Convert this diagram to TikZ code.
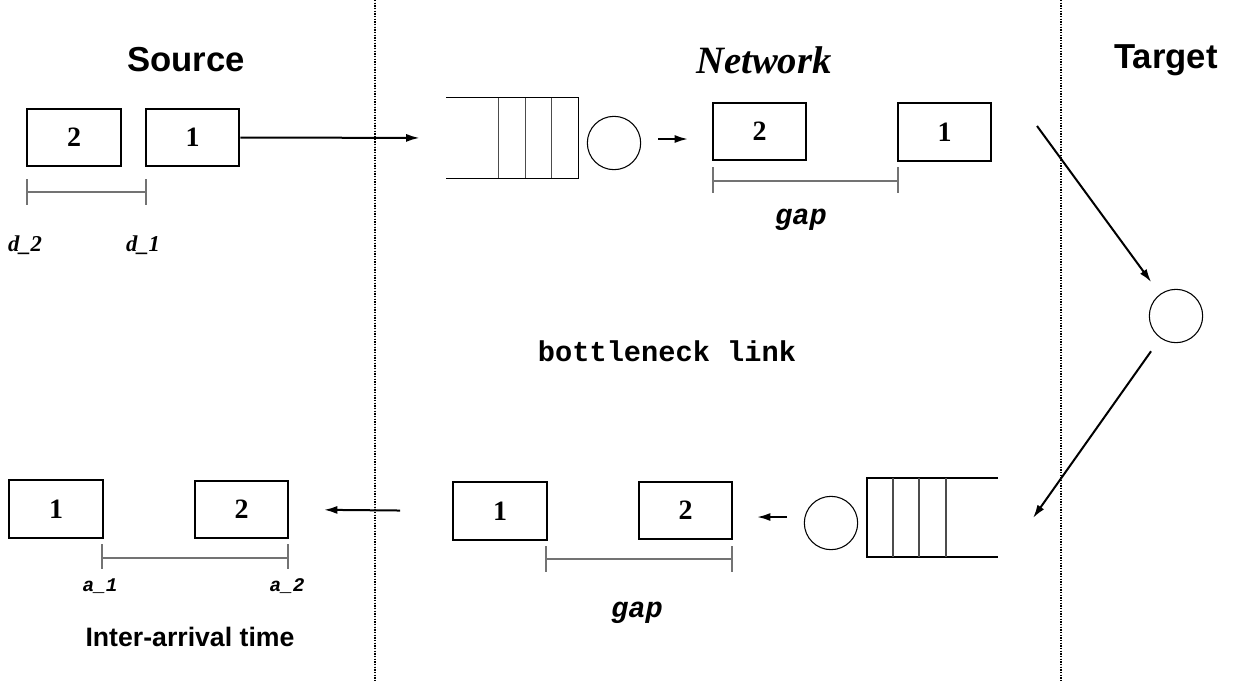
\documentclass[tikz,border=0pt]{standalone}
\usepackage{fontspec}
\setmainfont{Liberation Serif}
\newfontfamily\helv{Liberation Sans}
\newfontfamily\cour{Liberation Mono}
\usetikzlibrary{arrows.meta,calc}

\begin{document}
\begin{tikzpicture}[x=0.75pt,y=-0.75pt,
  pkt/.style={draw,line width=1.7pt,minimum width=70pt,minimum height=43pt,inner sep=0pt,
    font=\fontsize{21}{21}\selectfont\bfseries},
  srv/.style={draw,circle,line width=0.8pt,minimum size=40pt,inner sep=0pt},
  qbox/.style={rectangle,minimum width=99pt,minimum height=60pt,inner sep=0pt},
  qline/.style={line width=1pt},
  qdiv/.style={line width=1pt,draw=black!70},
  brk/.style={draw=black!55,line width=1.2pt},
  arr/.style={-{Latex[length=10pt,width=6pt]},line width=1.5pt},
  sep/.style={line width=1.5pt,dash pattern=on 1pt off 1pt},
  title/.style={font=\helv\bfseries\fontsize{26}{26}\selectfont},
  tlabel/.style={font=\bfseries\itshape\fontsize{17}{17}\selectfont},
  clabel/.style={font=\cour\bfseries\itshape\fontsize{14.5}{14.5}\selectfont},
  cbig/.style={font=\cour\bfseries\fontsize{21.5}{21.5}\selectfont},
  cgap/.style={font=\cour\bfseries\itshape\fontsize{21.5}{21.5}\selectfont}]

\useasboundingbox (0,0) rectangle (1234,682);

% domain separators
\draw[sep] (375,0) -- (375,682);
\draw[sep] (1061,0) -- (1061,682);

% headings
\node[title] (hsrc) at (186,60) {Source};
\node[font=\bfseries\itshape\fontsize{29}{29}\selectfont] (hnet) at (764,60) {Network};
\node[title] (htgt) at (1166,60) {Target};

% sender side: packets leaving
\node[pkt] (s2) at (74,137.5) {2};
\node[pkt] (s1) at (192.5,137.5) {1};
\draw[brk] (27,179) -- (27,205) (27,192) -- (146,192) (146,179) -- (146,205);
\node[tlabel] (d2) at (25,245) {d\_2};
\node[tlabel] (d1) at (143,245) {d\_1};

% forward path: queue and server of the bottleneck
\node[qbox] (q1) at (512.5,138) {};
\draw[qline] (q1.north west) -- (q1.north east) -- (q1.south east) -- (q1.south west);
\foreach \dx in {-80,-53,-27}
  \draw[qdiv] ($(q1.north east)+(\dx,0)$) -- ($(q1.south east)+(\dx,0)$);
\node[srv] (c1) at (614,143) {};
\draw[arr,shorten >=20pt] (s1.east) -- (q1.west);

\coordinate (f1) at (658,139);
\coordinate (f2) at (688,139);
\draw[arr] (f1) -- (f2);

\node[pkt] (n2) at (759.5,131.5) {2};
\node[pkt] (n1) at (944.5,132) {1};
\draw[brk] (713,167) -- (713,193) (713,181) -- (898,181) (898,167) -- (898,193);
\node[cgap] (gap1) at (801,220) {gap};

\node[cbig] (bl) at (667,351) {bottleneck link};

% receiver turns the packets around
\node[srv] (c3) at (1176,316) {};
\coordinate (dstart) at (1037,126);
\coordinate (dend) at (1033,518);
\draw[arr,shorten >=11pt] (dstart) -- (c3);
\draw[arr,shorten <=12pt] (c3) -- (dend);

% return path
\node[qbox,minimum width=98pt,minimum height=59pt] (q2) at (932.5,517.5) {};
\draw[qline] (q2.north east) -- (q2.north west) -- (q2.south west) -- (q2.south east);
\foreach \dx in {26,52,79}
  \draw[qdiv] ($(q2.north west)+(\dx,0)$) -- ($(q2.south west)+(\dx,0)$);
\node[srv] (c4) at (831,523) {};

\coordinate (r1) at (787,517);
\coordinate (r2) at (757,517);
\draw[arr] (r1) -- (r2);

\node[pkt] (b1) at (500,511) {1};
\node[pkt] (b2) at (685.5,510.5) {2};
\draw[brk] (546,546) -- (546,572) (546,559) -- (732,559) (732,546) -- (732,572);
\node[cgap] (gap2) at (637,613) {gap};

% sender side: acknowledgements arriving
\node[pkt] (l1) at (56,509) {1};
\node[pkt] (l2) at (241.5,509.5) {2};
\draw[arr,shorten <=39pt,shorten >=26pt] (b1.west) -- (l2.east);
\draw[brk] (102,544) -- (102,569) (102,558) -- (288,558) (288,544) -- (288,569);
\node[clabel] (a1) at (100,586) {a\_1};
\node[clabel] (a2) at (287,586) {a\_2};
\node[font=\helv\bfseries\fontsize{20}{20}\selectfont] (iat) at (190,637) {Inter-arrival time};

\end{tikzpicture}
\end{document}
